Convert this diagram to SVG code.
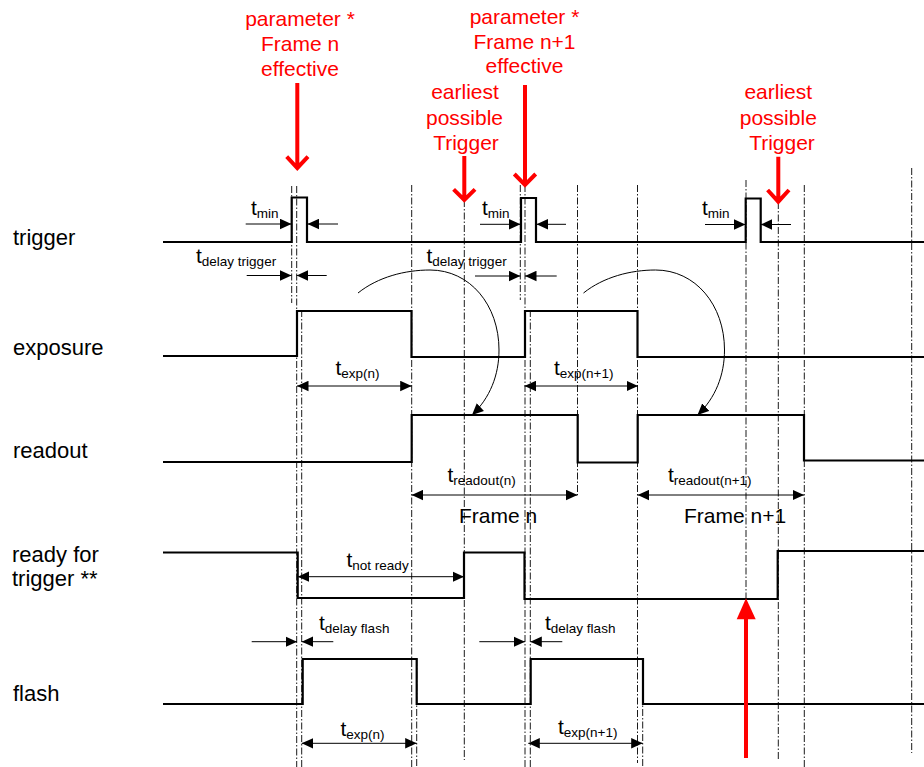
<svg xmlns="http://www.w3.org/2000/svg" width="924" height="767" viewBox="0 0 924 767">
<style>
.bg{fill:#fff}
.lbl{font-family:"Liberation Sans",Arial,sans-serif;font-size:21px;fill:#000}
.row{font-size:22px}
.red{font-family:"Liberation Sans",Arial,sans-serif;font-size:21px;fill:#ff0000;text-anchor:middle}
.sub{font-size:13.5px}
.sig{fill:none;stroke:#000;stroke-width:2.2;stroke-linejoin:miter}
.dd{fill:none;stroke:#000;stroke-width:0.9;stroke-dasharray:7 2 1.5 2}
.dim{fill:none;stroke:#000;stroke-width:1}
.one{marker-end:url(#ah)}
.two{marker-start:url(#ah);marker-end:url(#ah)}
.arc{fill:none;stroke:#000;stroke-width:1;marker-end:url(#ah)}
.rarr{fill:none;stroke:#ff0000;stroke-width:4}
</style>
<defs>
<marker id="ah" markerUnits="userSpaceOnUse" markerWidth="12" markerHeight="11" refX="11.5" refY="5.25" orient="auto-start-reverse" viewBox="0 0 12 10.5">
<path d="M0,0 L11.5,5.25 L0,10.5 z" fill="#000"/>
</marker>
</defs>
<rect class="bg" x="0" y="0" width="924" height="767"/>

<g id="gridlines">
<line class="dd" x1="291.7" y1="186" x2="291.7" y2="303"/>
<line class="dd" x1="296.7" y1="186" x2="296.7" y2="767"/>
<line class="dd" x1="301.7" y1="310" x2="301.7" y2="767"/>
<line class="dd" x1="411.7" y1="185" x2="411.7" y2="767"/>
<line class="dd" x1="416.7" y1="659" x2="416.7" y2="767"/>
<line class="dd" x1="464.3" y1="200" x2="464.3" y2="760"/>
<line class="dd" x1="520.3" y1="185" x2="520.3" y2="300"/>
<line class="dd" x1="525" y1="185" x2="525" y2="767"/>
<line class="dd" x1="530.3" y1="310" x2="530.3" y2="767"/>
<line class="dd" x1="577.5" y1="185" x2="577.5" y2="495"/>
<line class="dd" x1="637.5" y1="185" x2="637.5" y2="763"/>
<line class="dd" x1="642.7" y1="659" x2="642.7" y2="767"/>
<line class="dd" x1="746" y1="180" x2="746" y2="598"/>
<line class="dd" x1="778.3" y1="202" x2="778.3" y2="760"/>
<line class="dd" x1="804.3" y1="185" x2="804.3" y2="767"/>
<line class="dd" x1="911.7" y1="168" x2="911.7" y2="753"/>
</g>

<g id="labels">
<text class="lbl row" x="13" y="245">trigger</text>
<text class="lbl row" x="13" y="355">exposure</text>
<text class="lbl row" x="13" y="458">readout</text>
<text class="lbl row" x="12" y="562">ready for</text>
<text class="lbl row" x="12" y="586">trigger **</text>
<text class="lbl row" x="13" y="701">flash</text>
</g>

<g id="sig-trigger"><path class="sig" d="M163,242 H291.7 V197.5 H307 V242 H521 V198 H536 V242 H745.7 V198.5 H760.7 V242 H924"/></g>
<g id="sig-exposure"><path class="sig" d="M163,356 H297 V311 H411.5 V357 H525 V311 H637.5 V357 H924"/></g>
<g id="sig-readout"><path class="sig" d="M163,462 H411.7 V415 H577.7 V462.5 H637.7 V415 H804 V460.5 H924"/></g>
<g id="sig-ready"><path class="sig" d="M163,552.5 H297.7 V598 H464 V552.5 H524.5 V599 H777.7 V551 H924"/></g>
<g id="sig-flash"><path class="sig" d="M163,704 H302.7 V659 H416.7 V704 H530.7 V659 H643 V704 H924"/></g>

<g id="annotations-red">
<text class="red"><tspan x="300" y="26">parameter *</tspan><tspan x="300" y="51">Frame n</tspan><tspan x="300" y="76">effective</tspan></text>
<path class="rarr" d="M297.3,83 V167 M286.7,156.7 L297.3,168 L308,156.7"/>
<text class="red"><tspan x="524.5" y="24">parameter *</tspan><tspan x="524.5" y="48.5">Frame n+1</tspan><tspan x="524.5" y="73">effective</tspan></text>
<path class="rarr" d="M525,85 V184 M514.3,174 L525,185 L535.7,174"/>
<text class="red"><tspan x="465" y="99">earliest</tspan><tspan x="464.5" y="124.5">possible</tspan><tspan x="466" y="150">Trigger</tspan></text>
<path class="rarr" d="M464.3,156 V199 M453.6,189.3 L464.3,200 L475,189.3"/>
<text class="red"><tspan x="778.3" y="99">earliest</tspan><tspan x="778.3" y="124.5">possible</tspan><tspan x="782" y="150">Trigger</tspan></text>
<path class="rarr" d="M778.3,156.7 V200.7 M767.6,190 L778.3,201.7 L789,190"/>
<line class="rarr" x1="746" y1="758" x2="746" y2="615"/>
<polygon points="736.7,619.3 746,598.3 755.7,619.3" fill="#ff0000"/>
</g>

<g id="connectors">
<path class="arc" d="M358,293 C378,277 405,270 430,270 C470,270 499,305 499,350 C499,375 490,398 472,415"/>
<path class="arc" transform="translate(225.5,0)" d="M358,293 C378,277 405,270 430,270 C470,270 499,305 499,350 C499,375 490,398 472,415"/>

<line class="dim one" x1="245.7" y1="224" x2="291.5" y2="224"/>
<line class="dim one" x1="338" y1="224" x2="307.5" y2="224"/>
<line class="dim one" x1="246.7" y1="275.5" x2="291.5" y2="275.5"/>
<line class="dim one" x1="326.7" y1="275.5" x2="296.7" y2="275.5"/>
<line class="dim one" x1="480" y1="224.3" x2="520.5" y2="224.3"/>
<line class="dim one" x1="566" y1="224.3" x2="536.5" y2="224.3"/>
<line class="dim one" x1="475" y1="276" x2="520.3" y2="276"/>
<line class="dim one" x1="556.7" y1="276" x2="525" y2="276"/>
<line class="dim one" x1="705" y1="224.5" x2="745.5" y2="224.5"/>
<line class="dim one" x1="791" y1="224.5" x2="760.7" y2="224.5"/>
<line class="dim one" x1="251.7" y1="641.7" x2="297" y2="641.7"/>
<line class="dim one" x1="333.3" y1="641.7" x2="301.7" y2="641.7"/>
<line class="dim one" x1="479.3" y1="641.7" x2="525" y2="641.7"/>
<line class="dim one" x1="562.3" y1="641.7" x2="530.3" y2="641.7"/>

<line class="dim two" x1="297" y1="386" x2="411.7" y2="386"/>
<line class="dim two" x1="524.5" y1="386" x2="638" y2="386"/>
<line class="dim two" x1="411.7" y1="495" x2="577.5" y2="495"/>
<line class="dim two" x1="637.7" y1="495" x2="804" y2="495"/>
<line class="dim two" x1="297.7" y1="576.7" x2="464" y2="576.7"/>
<line class="dim two" x1="301.7" y1="743.3" x2="416.7" y2="743.3"/>
<line class="dim two" x1="528.3" y1="743.3" x2="642.7" y2="743.3"/>
</g>

<g id="dim-labels">
<text class="lbl" x="251" y="215">t<tspan class="sub" dy="3">min</tspan></text>
<text class="lbl" x="196" y="263">t<tspan class="sub" dy="3">delay trigger</tspan></text>
<text class="lbl" x="482" y="215">t<tspan class="sub" dy="3">min</tspan></text>
<text class="lbl" x="426.5" y="263">t<tspan class="sub" dy="3">delay trigger</tspan></text>
<text class="lbl" x="702" y="215">t<tspan class="sub" dy="3">min</tspan></text>
<text class="lbl" x="335.5" y="375">t<tspan class="sub" dy="3">exp(n)</tspan></text>
<text class="lbl" x="554" y="375">t<tspan class="sub" dy="3">exp(n+1)</tspan></text>
<text class="lbl" x="447.5" y="482">t<tspan class="sub" dy="3">readout(n)</tspan></text>
<text class="lbl" x="668" y="482">t<tspan class="sub" dy="3">readout(n+1)</tspan></text>
<text class="lbl" x="459" y="523">Frame n</text>
<text class="lbl" x="684" y="523">Frame n+1</text>
<text class="lbl" x="346.5" y="567">t<tspan class="sub" dy="3">not ready</tspan></text>
<text class="lbl" x="319" y="630">t<tspan class="sub" dy="3">delay flash</tspan></text>
<text class="lbl" x="545" y="630">t<tspan class="sub" dy="3">delay flash</tspan></text>
<text class="lbl" x="340.5" y="736">t<tspan class="sub" dy="3">exp(n)</tspan></text>
<text class="lbl" x="558" y="734">t<tspan class="sub" dy="3">exp(n+1)</tspan></text>
</g>
</svg>
